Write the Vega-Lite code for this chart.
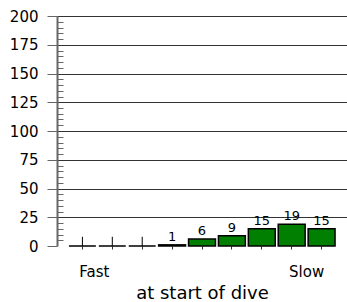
{
  "$schema": "https://vega.github.io/schema/vega-lite/v6.json",
  "width": 290,
  "height": 230,
  "autosize": "none",
  "padding": {"left": 57, "top": 16, "right": 0, "bottom": 56},
  "config": {"view": {"stroke": null}, "font": "DejaVu Sans"},
  "data": {
    "values": [
      {"bin": "b1", "count": 0, "err": 8},
      {"bin": "b2", "count": 0, "err": 8},
      {"bin": "b3", "count": 0, "err": 8},
      {"bin": "b4", "count": 1},
      {"bin": "b5", "count": 6},
      {"bin": "b6", "count": 9},
      {"bin": "b7", "count": 15},
      {"bin": "b8", "count": 19},
      {"bin": "b9", "count": 15}
    ]
  },
  "resolve": {"axis": {"y": "independent"}},
  "encoding": {
    "x": {
      "field": "bin",
      "type": "ordinal",
      "sort": null,
      "scale": {"paddingInner": 0.1, "paddingOuter": 0.4},
      "axis": {
        "title": "at start of dive",
        "labelExpr": "datum.value == 'b1' ? 'Fast' : (datum.value == 'b9' ? 'Slow' : '')",
        "labelOffset": {"condition": {"test": "datum.value == 'b1'", "value": 12}, "value": -15},
        "labelAngle": 0,
        "labelFontSize": 15,
        "labelColor": "black",
        "labelPadding": 15,
        "tickSize": 3,
        "tickColor": "#333",
        "domain": false,
        "titleFontSize": 18,
        "titleFontWeight": "normal",
        "titleColor": "black",
        "titlePadding": 5
      }
    }
  },
  "layer": [
    {
      "mark": {"type": "bar", "color": "#007f00", "stroke": "black", "strokeWidth": 1.5},
      "encoding": {
        "y": {
          "field": "count",
          "type": "quantitative",
          "scale": {"domain": [0, 200], "nice": false},
          "axis": {
            "title": null,
            "orient": "left",
            "values": [0,5,10,15,20,25,30,35,40,45,50,55,60,65,70,75,80,85,90,95,100,105,110,115,120,125,130,135,140,145,150,155,160,165,170,175,180,185,190,195,200],
            "labelOverlap": false,
            "grid": true,
            "gridColor": "#333",
            "gridOpacity": {"condition": {"test": "datum.value % 25 == 0 && datum.value > 0", "value": 1}, "value": 0},
            "tickSize": {"condition": {"test": "datum.value % 25 == 0", "value": 10}, "value": -6},
            "tickColor": "#666",
            "domainColor": "#666",
            "domainWidth": 2,
            "labelExpr": "datum.value % 25 == 0 ? datum.label : ''",
            "labelFontSize": 15,
            "labelColor": "black",
            "labelPadding": 9
          }
        }
      }
    },
    {
      "transform": [{"filter": "datum.count > 0"}],
      "mark": {"type": "text", "dy": -8, "fontSize": 13, "color": "black"},
      "encoding": {
        "y": {"field": "count", "type": "quantitative", "axis": null},
        "text": {"field": "count", "type": "quantitative"}
      }
    },
    {
      "transform": [{"filter": "isValid(datum.err)"}],
      "mark": {"type": "rule", "color": "black", "strokeWidth": 1},
      "encoding": {
        "y": {"field": "err", "type": "quantitative", "axis": null},
        "y2": {"datum": 0}
      }
    }
  ]
}
